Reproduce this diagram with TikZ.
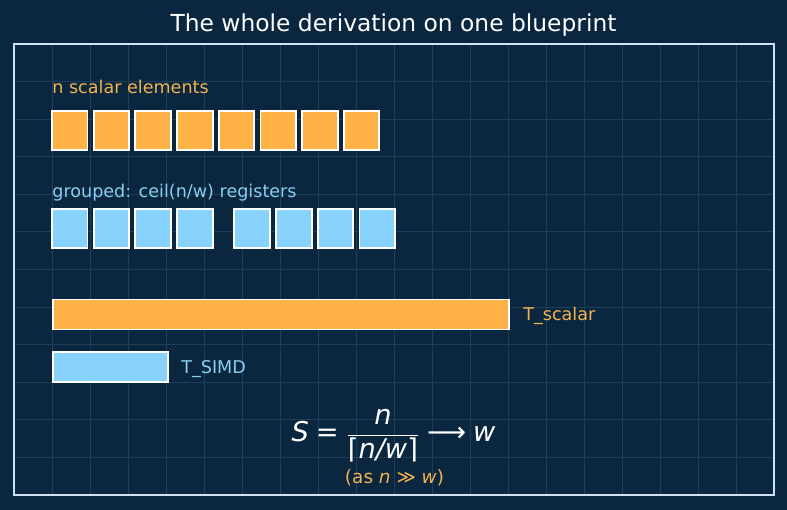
\documentclass[tikz,border=0pt]{standalone}
\usepackage{fontspec}
\setmainfont{DejaVu Sans}
\definecolor{bgnavy}{HTML}{0B2740}
\definecolor{gridblue}{HTML}{1E3E5B}
\definecolor{framec}{HTML}{CDE3F1}
\definecolor{scalarc}{HTML}{FFB347}
\definecolor{simdc}{HTML}{87D3FD}
\definecolor{scalartxt}{HTML}{F2B24E}
\definecolor{simdtxt}{HTML}{87CEF0}
\newcommand{\vi}[1]{\mbox{\itshape #1}}
\tikzset{
  cell/.style={draw=white, line width=1.1pt, minimum width=0.71cm, minimum height=0.79cm, inner sep=0pt},
  bar/.style={draw=white, line width=1.1pt, minimum height=0.6cm, inner sep=0pt, anchor=west},
  lbl/.style={font=\fontsize{10}{12}\selectfont, inner sep=0pt},
  gridline/.style={gridblue, line width=0.5pt},
}
\begin{document}
\begin{tikzpicture}[x=0.02cm,y=-0.02cm]
      \def\pitch{41.7} \def\gap{15.6}
      \fill[bgnavy] (0,0) rectangle (787,510);
      % blueprint grid
      \foreach \i in {1,...,19}
        \draw[gridline] ({14+38*\i},44) -- ({14+38*\i},495);
      \foreach \j in {1,...,11}
        \draw[gridline] (14,{44+37.58*\j}) -- (774,{44+37.58*\j});
      \draw[framec, line width=1.1pt] (14,44) rectangle (774,495);
      \node[lbl, anchor=base, text=white, font=\fontsize{13.3}{16}\selectfont] (title) at (393.5,31.5) {The whole derivation on one blueprint};
      % scalar elements
      \node[lbl, anchor=base west, text=scalartxt] (scalarlbl) at (52,93) {n scalar elements};
      \foreach \i in {0,...,7}
        \node[cell, fill=scalarc] (s\i) at ({69.75+\pitch*\i},130.5) {};
      % grouped into registers
      \node[lbl, anchor=base west, text=simdtxt] (grouplbl) at (52,197.5) {grouped: ceil(n/w) registers};
      \foreach \i in {0,...,3}
        \node[cell, fill=simdc] (r\i) at ({69.75+\pitch*\i},228.3) {};
      \foreach \i in {4,...,7}
        \node[cell, fill=simdc] (r\i) at ({69.75+\pitch*\i+\gap},228.3) {};
      % timing bars
      \node[bar, fill=scalarc, minimum width=9.12cm] (tscalar) at (52,314.5) {};
      \node[lbl, anchor=base west, text=scalartxt] (tscalarlbl) at (523,320) {T\_scalar};
      \node[bar, fill=simdc, minimum width=2.3cm] (tsimd) at (52,367.3) {};
      \node[lbl, anchor=base west, text=simdtxt] (tsimdlbl) at (181,373.3) {T\_SIMD};
      % speedup
      \node[anchor=base, text=white, font=\fontsize{15.5}{18}\selectfont, inner sep=0pt] (speedup) at (393.5,441.5)
        {$\displaystyle \vi{S} \mathrel{\mbox{=}} \frac{\vi{n}}{\mbox{⌈\itshape n/w\upshape ⌉}} \mathrel{\mbox{⟶}} \vi{w}$};
      \node[lbl, anchor=base, text=scalartxt, font=\fontsize{10.5}{12}\selectfont] (asym) at (394.5,483) {(as \textit{n} ≫ \textit{w})};
     \end{tikzpicture}
\end{document}
